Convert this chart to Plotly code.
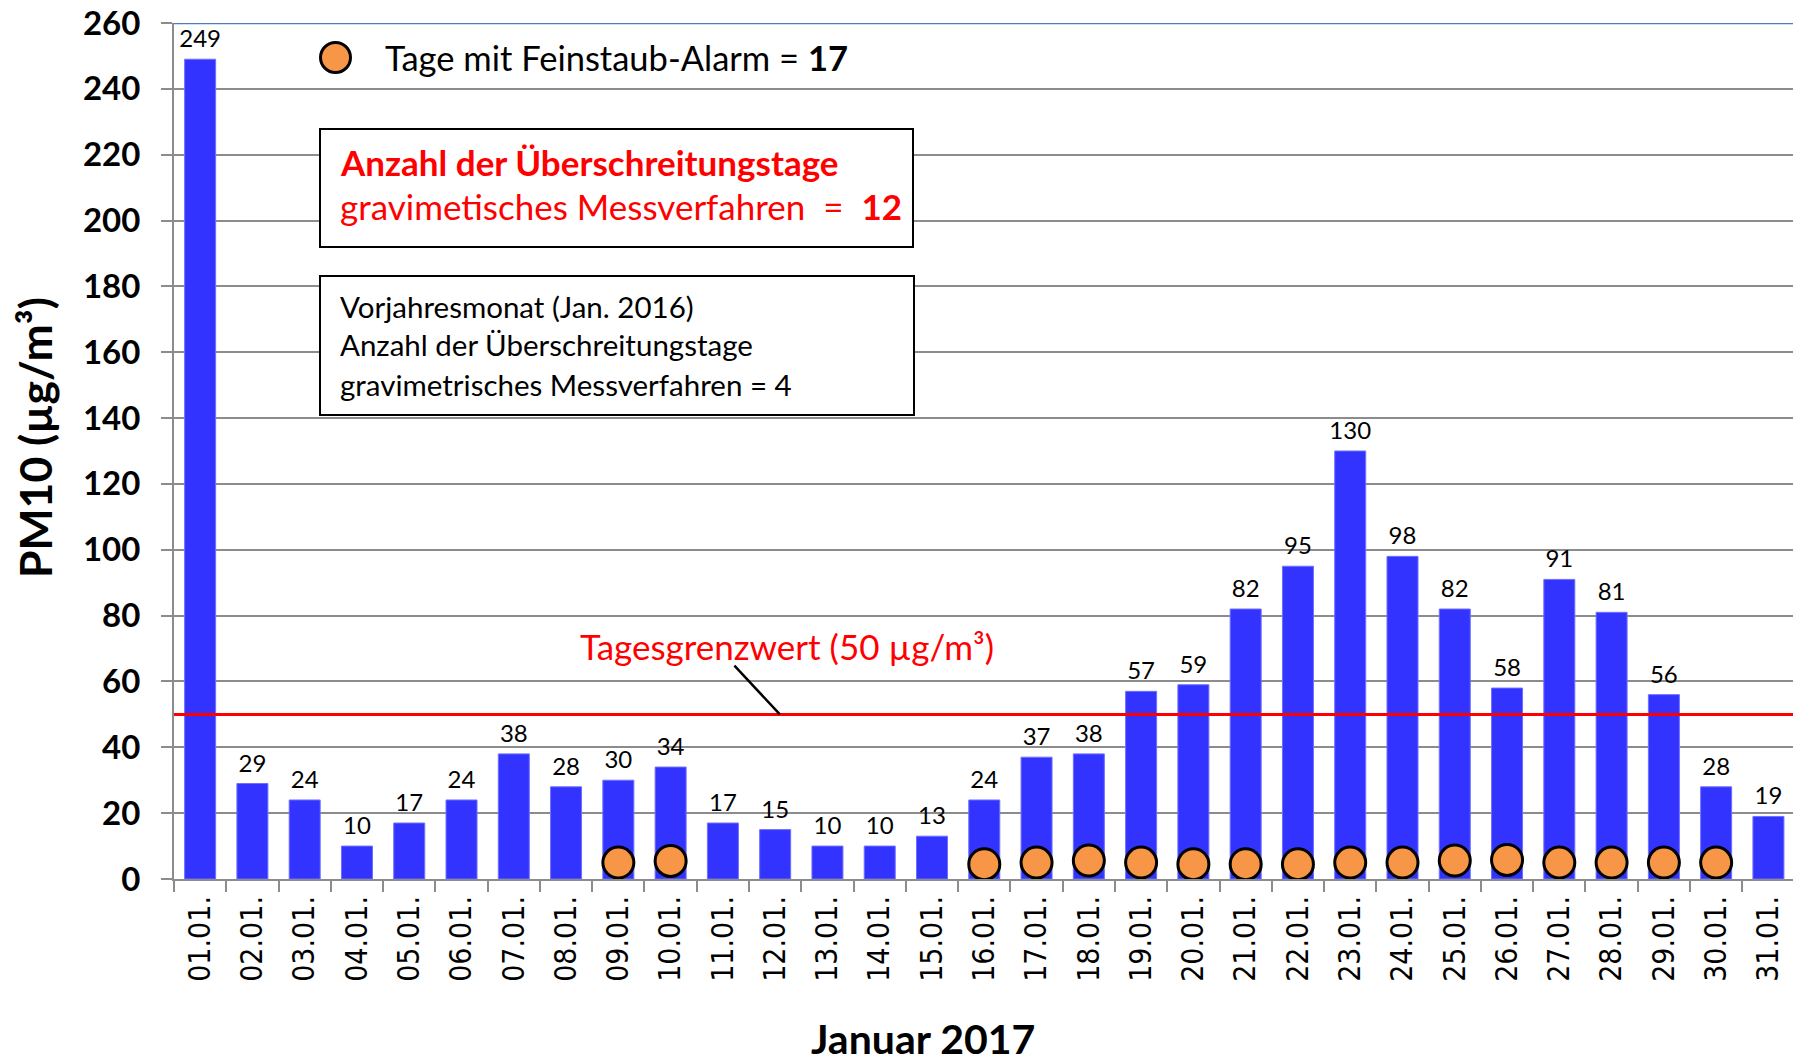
import plotly.graph_objects as go

# PM10 Tagesmittelwerte Januar 2017
days = ["01.01.", "02.01.", "03.01.", "04.01.", "05.01.", "06.01.", "07.01.", "08.01.",
        "09.01.", "10.01.", "11.01.", "12.01.", "13.01.", "14.01.", "15.01.", "16.01.",
        "17.01.", "18.01.", "19.01.", "20.01.", "21.01.", "22.01.", "23.01.", "24.01.",
        "25.01.", "26.01.", "27.01.", "28.01.", "29.01.", "30.01.", "31.01."]
pm10 = [249, 29, 24, 10, 17, 24, 38, 28, 30, 34, 17, 15, 10, 10, 13, 24,
        37, 38, 57, 59, 82, 95, 130, 98, 82, 58, 91, 81, 56, 28, 19]

# Tage mit Feinstaub-Alarm (Markierung unten im Balken)
alarm_days = ["09.01.", "10.01.", "16.01.", "17.01.", "18.01.", "19.01.", "20.01.", "21.01.",
              "22.01.", "23.01.", "24.01.", "25.01.", "26.01.", "27.01.", "28.01.", "29.01.", "30.01."]
alarm_y = [5.0, 5.5, 4.5, 5.0, 5.6, 5.0, 4.5, 4.5, 4.5, 5.0, 5.0, 5.6, 5.8, 5.0, 5.0, 5.0, 5.0]

grenzwert = 50
y_ticks = list(range(0, 261, 20))

W, H = 1793, 1064
ML, MT, MB = 174, 23, 185
plot_w = W - ML
plot_h = H - MT - MB

def px(x):
    return (x - ML) / plot_w

def py(y):
    return (H - MB - y) / plot_h

fig = go.Figure()
fig.add_trace(go.Bar(
    x=days, y=pm10, marker=dict(color="#3333FF", line=dict(color="#6f6fff", width=1)),
    showlegend=False, hoverinfo="x+y"))
# Werte über den Balken
fig.add_trace(go.Scatter(
    x=days, y=pm10, mode="markers+text", text=[str(v) for v in pm10],
    textposition="top center", cliponaxis=False, showlegend=False, hoverinfo="skip",
    marker=dict(size=8, opacity=0), textfont=dict(family="Lato", size=24, color="black")))
fig.add_trace(go.Scatter(
    x=alarm_days, y=alarm_y, mode="markers", showlegend=False,
    marker=dict(size=31, color="#F79646", line=dict(color="black", width=3))))

shapes = [
    dict(type="line", xref="paper", yref="y", x0=0, x1=1, y0=260, y1=260,
         line=dict(color="#4a7ebb", width=2.5)),
    dict(type="line", xref="paper", yref="y", x0=0, x1=1, y0=grenzwert, y1=grenzwert,
         line=dict(color="#FF0000", width=3)),
    dict(type="line", xref="x", yref="y", x0=10.22, x1=11.09, y0=64.8, y1=grenzwert,
         line=dict(color="black", width=2.5)),
    dict(type="rect", xref="paper", yref="paper", x0=px(320), x1=px(913), y0=py(247), y1=py(129),
         fillcolor="white", line=dict(color="black", width=2)),
    dict(type="rect", xref="paper", yref="paper", x0=px(320), x1=px(914), y0=py(415), y1=py(276),
         fillcolor="white", line=dict(color="black", width=2)),
    dict(type="circle", xref="paper", yref="paper", xsizemode="pixel", ysizemode="pixel",
         xanchor=px(335.5), yanchor=py(57.5), x0=-15, x1=15, y0=-15, y1=15,
         fillcolor="#F79646", line=dict(color="black", width=3)),
]

def note(text, x, y, size, color="black", **kw):
    return dict(text=text, xref="paper", yref="paper", x=px(x), y=py(y), showarrow=False,
                xanchor=kw.get("xanchor", "left"), yanchor="middle", textangle=kw.get("textangle", 0),
                font=dict(family="Lato", size=size, color=color))

nb = "\u00a0"
annotations = [
    note("Tage mit Feinstaub-Alarm = <b>17</b>", 383, 58, 34.5),
    note("<b>Anzahl der Überschreitungstage</b>", 338, 162, 35, "#FF0000"),
    note("gravimetisches Messverfahren" + nb * 2 + "=" + nb * 2 + "<b>12</b>", 338, 206, 35, "#FF0000"),
    note("Vorjahresmonat (Jan. 2016)", 338, 306, 29.5),
    note("Anzahl der Überschreitungstage", 338, 345, 29.5),
    note("gravimetrisches Messverfahren = 4", 338, 384, 29.5),
    note("Tagesgrenzwert (50 µg/m³)", 787, 646, 35, "#FF0000", xanchor="center"),
    note("<b>Januar 2017</b>", 923, 1038, 41, xanchor="center"),
    note("<b>PM10 (µg/m³)</b>", 34, 438, 44.5, xanchor="center", textangle=-90),
]

fig.update_layout(
    width=W, height=H, margin=dict(l=ML, r=0, t=MT, b=MB),
    plot_bgcolor="white", paper_bgcolor="white", bargap=0.407,
    shapes=shapes, annotations=annotations,
    xaxis=dict(type="category", range=[-0.5, 30.47], automargin=False,
               tickangle=-90, ticks="outside", tickson="boundaries", ticklen=11,
               tickcolor="#8c8c8c", tickwidth=2, showline=True, linecolor="#8c8c8c",
               linewidth=2, showgrid=False, ticklabelstandoff=3,
               tickfont=dict(family="DejaVu Sans Condensed, DejaVu Sans", size=30, color="black")),
    yaxis=dict(range=[0, 260], tickvals=y_ticks, ticks="outside", ticklen=11, automargin=False,
               tickcolor="#8c8c8c", tickwidth=2, showline=True, linecolor="#8c8c8c",
               linewidth=2, gridcolor="#8c8c8c", gridwidth=2, zeroline=False,
               ticklabelstandoff=14,
               tickfont=dict(family="Lato", size=33, color="black", weight="bold")),
)

fig.write_html("out.html", config={"displayModeBar": False},
               post_script="document.body.style.margin='0';")
